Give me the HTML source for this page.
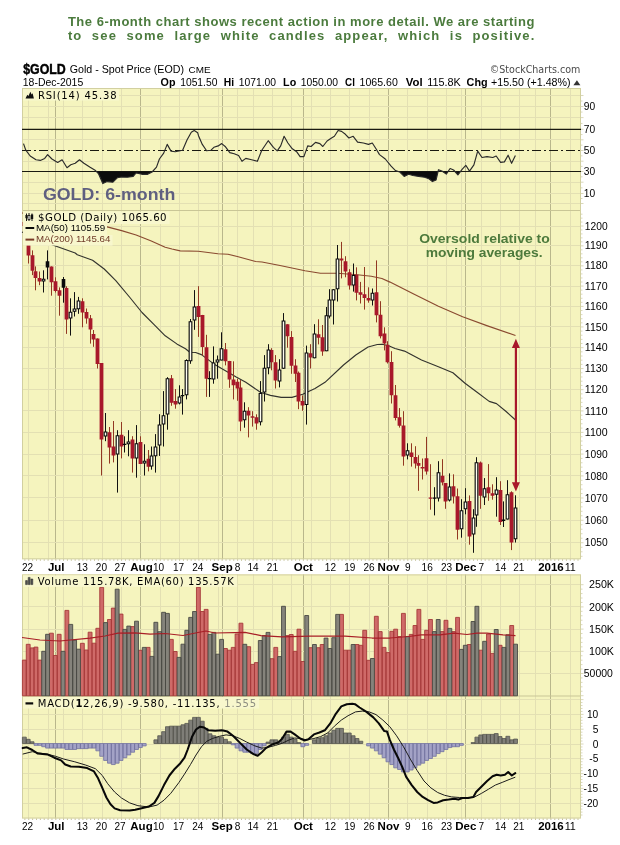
<!DOCTYPE html>
<html lang="en"><head><meta charset="utf-8"><title>GOLD 6-month chart</title>
<style>
html,body{margin:0;padding:0;background:#fff}
body{width:620px;height:845px;position:relative;overflow:hidden;font-family:"Liberation Sans",Arial,sans-serif}
.cap{position:absolute;left:67.9px;width:480px;color:#4b7b3d;font-weight:bold;font-size:13px;line-height:13.6px;white-space:nowrap;z-index:2}
#c1{top:15.2px;letter-spacing:0.522px}
#c2{top:29.4px;letter-spacing:1.15px;word-spacing:4.65px}
</style></head><body>
<svg width="620" height="845" viewBox="0 0 620 845" style="display:block;will-change:transform">
<rect width="620" height="845" fill="#fff"/>
<rect x="22" y="88" width="559" height="471.3" fill="#f5f4be"/>
<rect x="22" y="574.4" width="559" height="244.1" fill="#f5f4be"/>
<path d="M28.5 88V559.3M48.5 88V559.3M63.5 88V559.3M82.5 88V559.3M102.5 88V559.3M121.5 88V559.3M160.5 88V559.3M179.5 88V559.3M198.5 88V559.3M218.5 88V559.3M237.5 88V559.3M253.5 88V559.3M272.5 88V559.3M291.5 88V559.3M311.5 88V559.3M330.5 88V559.3M349.5 88V559.3M369.5 88V559.3M407.5 88V559.3M427.5 88V559.3M446.5 88V559.3M461.5 88V559.3M481.5 88V559.3M500.5 88V559.3M519.5 88V559.3M535.5 88V559.3M570.5 88V559.3M28.5 574.4V818.5M48.5 574.4V818.5M63.5 574.4V818.5M82.5 574.4V818.5M102.5 574.4V818.5M121.5 574.4V818.5M160.5 574.4V818.5M179.5 574.4V818.5M198.5 574.4V818.5M218.5 574.4V818.5M237.5 574.4V818.5M253.5 574.4V818.5M272.5 574.4V818.5M291.5 574.4V818.5M311.5 574.4V818.5M330.5 574.4V818.5M349.5 574.4V818.5M369.5 574.4V818.5M407.5 574.4V818.5M427.5 574.4V818.5M446.5 574.4V818.5M461.5 574.4V818.5M481.5 574.4V818.5M500.5 574.4V818.5M519.5 574.4V818.5M535.5 574.4V818.5M570.5 574.4V818.5" stroke="#e3e0b3" stroke-width="1" fill="none"/>
<path d="M55.5 88V559.3M140.5 88V559.3M222.5 88V559.3M303.5 88V559.3M388.5 88V559.3M465.5 88V559.3M550.5 88V559.3M55.5 574.4V818.5M140.5 574.4V818.5M222.5 574.4V818.5M303.5 574.4V818.5M388.5 574.4V818.5M465.5 574.4V818.5M550.5 574.4V818.5" stroke="#b9b78c" stroke-width="1" fill="none"/>
<path d="M22 95.5H581M22 106.5H581M22 117.5H581M22 139.5H581M22 161.5H581M22 182.5H581M22 193.5H581M22 203.5H581M22 542.5H581M22 520.5H581M22 497.5H581M22 475.5H581M22 454.5H581M22 432.5H581M22 410.5H581M22 389.5H581M22 368.5H581M22 347.5H581M22 326.5H581M22 306.5H581M22 286.5H581M22 265.5H581M22 245.5H581M22 226.5H581M22 673.5H581M22 651.5H581M22 629.5H581M22 606.5H581M22 584.5H581M22 699.5H581M22 714.5H581M22 729.5H581M22 744.5H581M22 758.5H581M22 773.5H581M22 788.5H581M22 803.5H581" stroke="#e3e0b3" stroke-width="1" fill="none"/>
<path d="M22 210.5H581 M22 696H581" stroke="#c9c696" stroke-width="1" fill="none"/>
<rect x="22.5" y="88.5" width="558" height="470.3" fill="none" stroke="#d2d0a0" stroke-width="1"/>
<rect x="22.5" y="574.9" width="558" height="243.1" fill="none" stroke="#d2d0a0" stroke-width="1"/>
<path d="M581 556.33h1.5M581 551.79h1.5M581 547.26h1.5M581 542.74h2.5M581 538.22h1.5M581 533.72h1.5M581 529.22h1.5M581 524.73h1.5M581 520.25h2.5M581 515.78h1.5M581 511.32h1.5M581 506.86h1.5M581 502.42h1.5M581 497.98h2.5M581 493.55h1.5M581 489.13h1.5M581 484.72h1.5M581 480.31h1.5M581 475.92h2.5M581 471.53h1.5M581 467.15h1.5M581 462.77h1.5M581 458.41h1.5M581 454.05h2.5M581 449.7h1.5M581 445.36h1.5M581 441.03h1.5M581 436.71h1.5M581 432.39h2.5M581 428.08h1.5M581 423.78h1.5M581 419.49h1.5M581 415.2h1.5M581 410.92h2.5M581 406.65h1.5M581 402.39h1.5M581 398.14h1.5M581 393.89h1.5M581 389.65h2.5M581 385.42h1.5M581 381.19h1.5M581 376.98h1.5M581 372.77h1.5M581 368.57h2.5M581 364.37h1.5M581 360.18h1.5M581 356.01h1.5M581 351.83h1.5M581 347.67h2.5M581 343.51h1.5M581 339.36h1.5M581 335.22h1.5M581 331.08h1.5M581 326.95h2.5M581 322.83h1.5M581 318.72h1.5M581 314.61h1.5M581 310.51h1.5M581 306.41h2.5M581 302.33h1.5M581 298.25h1.5M581 294.18h1.5M581 290.11h1.5M581 286.05h2.5M581 282h1.5M581 277.96h1.5M581 273.92h1.5M581 269.89h1.5M581 265.87h2.5M581 261.85h1.5M581 257.84h1.5M581 253.84h1.5M581 249.84h1.5M581 245.85h2.5M581 241.87h1.5M581 237.89h1.5M581 233.92h1.5M581 229.96h1.5M581 226h2.5M581 222.05h1.5M581 218.11h1.5M581 214.17h1.5M581 203.5h2.5M581 198.5h1.5M581 193.5h2.5M581 187.85h1.5M581 182.2h2.5M581 176.85h1.5M581 171.5h2.5M581 166.35h1.5M581 161.2h2.5M581 155.85h1.5M581 150.5h2.5M581 145.15h1.5M581 139.8h2.5M581 134.55h1.5M581 129.3h2.5M581 123.45h1.5M581 117.6h2.5M581 112.05h1.5M581 106.5h2.5M581 101h1.5M581 95.5h2.5M581 695.7h2.5M581 691.26h1.5M581 686.82h1.5M581 682.38h1.5M581 677.94h1.5M581 673.5h2.5M581 669.06h1.5M581 664.62h1.5M581 660.18h1.5M581 655.74h1.5M581 651.3h2.5M581 646.86h1.5M581 642.42h1.5M581 637.98h1.5M581 633.54h1.5M581 629.1h2.5M581 624.66h1.5M581 620.22h1.5M581 615.78h1.5M581 611.34h1.5M581 606.9h2.5M581 602.46h1.5M581 598.02h1.5M581 593.58h1.5M581 589.14h1.5M581 584.7h2.5M581 815.04h1.5M581 812.08h1.5M581 809.12h1.5M581 806.16h1.5M581 803.2h2.5M581 800.24h1.5M581 797.28h1.5M581 794.32h1.5M581 791.36h1.5M581 788.4h2.5M581 785.44h1.5M581 782.48h1.5M581 779.52h1.5M581 776.56h1.5M581 773.6h2.5M581 770.64h1.5M581 767.68h1.5M581 764.72h1.5M581 761.76h1.5M581 758.8h2.5M581 755.84h1.5M581 752.88h1.5M581 749.92h1.5M581 746.96h1.5M581 744h2.5M581 741.04h1.5M581 738.08h1.5M581 735.12h1.5M581 732.16h1.5M581 729.2h2.5M581 726.24h1.5M581 723.28h1.5M581 720.32h1.5M581 717.36h1.5M581 714.4h2.5M581 711.44h1.5M581 708.48h1.5M581 705.52h1.5M581 702.56h1.5M581 699.6h2.5" stroke="#d0ceaa" stroke-width="0.8" fill="none"/>
<path d="M24.88 559.3v1.5M28.75 559.3v1.5M32.62 559.3v1.5M36.49 559.3v1.5M40.35 559.3v1.5M44.22 559.3v1.5M48.09 559.3v1.5M51.96 559.3v1.5M55.83 559.3v1.5M59.69 559.3v1.5M63.56 559.3v1.5M67.43 559.3v1.5M71.3 559.3v1.5M75.17 559.3v1.5M79.03 559.3v1.5M82.9 559.3v1.5M86.77 559.3v1.5M90.64 559.3v1.5M94.51 559.3v1.5M98.37 559.3v1.5M102.24 559.3v1.5M106.11 559.3v1.5M109.98 559.3v1.5M113.85 559.3v1.5M117.71 559.3v1.5M121.58 559.3v1.5M125.45 559.3v1.5M129.32 559.3v1.5M133.19 559.3v1.5M137.05 559.3v1.5M140.92 559.3v1.5M144.79 559.3v1.5M148.66 559.3v1.5M152.53 559.3v1.5M156.39 559.3v1.5M160.26 559.3v1.5M164.13 559.3v1.5M168 559.3v1.5M171.87 559.3v1.5M175.73 559.3v1.5M179.6 559.3v1.5M183.47 559.3v1.5M187.34 559.3v1.5M191.21 559.3v1.5M195.07 559.3v1.5M198.94 559.3v1.5M202.81 559.3v1.5M206.68 559.3v1.5M210.55 559.3v1.5M214.41 559.3v1.5M218.28 559.3v1.5M222.15 559.3v1.5M226.02 559.3v1.5M229.89 559.3v1.5M233.75 559.3v1.5M237.62 559.3v1.5M241.49 559.3v1.5M245.36 559.3v1.5M249.23 559.3v1.5M253.09 559.3v1.5M256.96 559.3v1.5M260.83 559.3v1.5M264.7 559.3v1.5M268.57 559.3v1.5M272.43 559.3v1.5M276.3 559.3v1.5M280.17 559.3v1.5M284.04 559.3v1.5M287.91 559.3v1.5M291.77 559.3v1.5M295.64 559.3v1.5M299.51 559.3v1.5M303.38 559.3v1.5M307.25 559.3v1.5M311.11 559.3v1.5M314.98 559.3v1.5M318.85 559.3v1.5M322.72 559.3v1.5M326.59 559.3v1.5M330.45 559.3v1.5M334.32 559.3v1.5M338.19 559.3v1.5M342.06 559.3v1.5M345.93 559.3v1.5M349.79 559.3v1.5M353.66 559.3v1.5M357.53 559.3v1.5M361.4 559.3v1.5M365.27 559.3v1.5M369.13 559.3v1.5M373 559.3v1.5M376.87 559.3v1.5M380.74 559.3v1.5M384.61 559.3v1.5M388.47 559.3v1.5M392.34 559.3v1.5M396.21 559.3v1.5M400.08 559.3v1.5M403.95 559.3v1.5M407.81 559.3v1.5M411.68 559.3v1.5M415.55 559.3v1.5M419.42 559.3v1.5M423.29 559.3v1.5M427.15 559.3v1.5M431.02 559.3v1.5M434.89 559.3v1.5M438.76 559.3v1.5M442.63 559.3v1.5M446.49 559.3v1.5M450.36 559.3v1.5M454.23 559.3v1.5M458.1 559.3v1.5M461.97 559.3v1.5M465.83 559.3v1.5M469.7 559.3v1.5M473.57 559.3v1.5M477.44 559.3v1.5M481.31 559.3v1.5M485.17 559.3v1.5M489.04 559.3v1.5M492.91 559.3v1.5M496.78 559.3v1.5M500.65 559.3v1.5M504.51 559.3v1.5M508.38 559.3v1.5M512.25 559.3v1.5M516.12 559.3v1.5M519.99 559.3v1.5M523.85 559.3v1.5M527.72 559.3v1.5M531.59 559.3v1.5M535.46 559.3v1.5M539.33 559.3v1.5M543.19 559.3v1.5M547.06 559.3v1.5M550.93 559.3v1.5M554.8 559.3v1.5M558.67 559.3v1.5M562.53 559.3v1.5M566.4 559.3v1.5M570.27 559.3v1.5M574.14 559.3v1.5M578.01 559.3v1.5M24.88 818.5v1.5M28.75 818.5v1.5M32.62 818.5v1.5M36.49 818.5v1.5M40.35 818.5v1.5M44.22 818.5v1.5M48.09 818.5v1.5M51.96 818.5v1.5M55.83 818.5v1.5M59.69 818.5v1.5M63.56 818.5v1.5M67.43 818.5v1.5M71.3 818.5v1.5M75.17 818.5v1.5M79.03 818.5v1.5M82.9 818.5v1.5M86.77 818.5v1.5M90.64 818.5v1.5M94.51 818.5v1.5M98.37 818.5v1.5M102.24 818.5v1.5M106.11 818.5v1.5M109.98 818.5v1.5M113.85 818.5v1.5M117.71 818.5v1.5M121.58 818.5v1.5M125.45 818.5v1.5M129.32 818.5v1.5M133.19 818.5v1.5M137.05 818.5v1.5M140.92 818.5v1.5M144.79 818.5v1.5M148.66 818.5v1.5M152.53 818.5v1.5M156.39 818.5v1.5M160.26 818.5v1.5M164.13 818.5v1.5M168 818.5v1.5M171.87 818.5v1.5M175.73 818.5v1.5M179.6 818.5v1.5M183.47 818.5v1.5M187.34 818.5v1.5M191.21 818.5v1.5M195.07 818.5v1.5M198.94 818.5v1.5M202.81 818.5v1.5M206.68 818.5v1.5M210.55 818.5v1.5M214.41 818.5v1.5M218.28 818.5v1.5M222.15 818.5v1.5M226.02 818.5v1.5M229.89 818.5v1.5M233.75 818.5v1.5M237.62 818.5v1.5M241.49 818.5v1.5M245.36 818.5v1.5M249.23 818.5v1.5M253.09 818.5v1.5M256.96 818.5v1.5M260.83 818.5v1.5M264.7 818.5v1.5M268.57 818.5v1.5M272.43 818.5v1.5M276.3 818.5v1.5M280.17 818.5v1.5M284.04 818.5v1.5M287.91 818.5v1.5M291.77 818.5v1.5M295.64 818.5v1.5M299.51 818.5v1.5M303.38 818.5v1.5M307.25 818.5v1.5M311.11 818.5v1.5M314.98 818.5v1.5M318.85 818.5v1.5M322.72 818.5v1.5M326.59 818.5v1.5M330.45 818.5v1.5M334.32 818.5v1.5M338.19 818.5v1.5M342.06 818.5v1.5M345.93 818.5v1.5M349.79 818.5v1.5M353.66 818.5v1.5M357.53 818.5v1.5M361.4 818.5v1.5M365.27 818.5v1.5M369.13 818.5v1.5M373 818.5v1.5M376.87 818.5v1.5M380.74 818.5v1.5M384.61 818.5v1.5M388.47 818.5v1.5M392.34 818.5v1.5M396.21 818.5v1.5M400.08 818.5v1.5M403.95 818.5v1.5M407.81 818.5v1.5M411.68 818.5v1.5M415.55 818.5v1.5M419.42 818.5v1.5M423.29 818.5v1.5M427.15 818.5v1.5M431.02 818.5v1.5M434.89 818.5v1.5M438.76 818.5v1.5M442.63 818.5v1.5M446.49 818.5v1.5M450.36 818.5v1.5M454.23 818.5v1.5M458.1 818.5v1.5M461.97 818.5v1.5M465.83 818.5v1.5M469.7 818.5v1.5M473.57 818.5v1.5M477.44 818.5v1.5M481.31 818.5v1.5M485.17 818.5v1.5M489.04 818.5v1.5M492.91 818.5v1.5M496.78 818.5v1.5M500.65 818.5v1.5M504.51 818.5v1.5M508.38 818.5v1.5M512.25 818.5v1.5M516.12 818.5v1.5M519.99 818.5v1.5M523.85 818.5v1.5M527.72 818.5v1.5M531.59 818.5v1.5M535.46 818.5v1.5M539.33 818.5v1.5M543.19 818.5v1.5M547.06 818.5v1.5M550.93 818.5v1.5M554.8 818.5v1.5M558.67 818.5v1.5M562.53 818.5v1.5M566.4 818.5v1.5M570.27 818.5v1.5M574.14 818.5v1.5M578.01 818.5v1.5" stroke="#c4c29a" stroke-width="1" fill="none"/>
<path d="M22 129.3H581M22 171.5H581" stroke="#1a1a10" stroke-width="1.2" fill="none"/>
<path d="M22 150.5H581" stroke="#1a1a10" stroke-width="1.2" stroke-dasharray="9 3 2 3" fill="none"/>
<polygon points="96.4,171.5 98.4,173.5 102.8,183.6 107.1,181.6 112.9,182.2 117.3,177.8 121.6,177 127.4,177.2 133.2,176.4 136.1,172.9 141.9,174.3 147.7,174.3 152.1,172 152.55,171.5" fill="#0c0c0c"/>
<polygon points="398.26,171.5 399.8,172 404.2,176.4 408.6,174.3 412.9,175.5 418.7,176.4 424.5,177.2 428.9,178.7 432.4,181.6 436.1,179.9 438.08,171.5" fill="#0c0c0c"/>
<polygon points="442.49,171.5 446.3,174.1 448.06,171.5" fill="#0c0c0c"/>
<polygon points="454.92,171.5 457.9,174.9 460.48,171.5" fill="#0c0c0c"/>
<polyline points="23.5,143.6 25.8,150.2 30.2,156 36,159.8 40.3,160.4 44.7,158.4 47.6,154.6 51.9,159 57.7,162.4 62.1,159.8 67,167.7 70.8,164.8 75.2,163.3 79.5,159.8 83.9,163.3 89.7,167.1 95.5,170.6 98.4,173.5 102.8,183.6 107.1,181.6 112.9,182.2 117.3,177.8 121.6,177 127.4,177.2 133.2,176.4 136.1,172.9 141.9,174.3 147.7,174.3 152.1,172 156.5,167.1 159.4,159 163.7,153.1 167.2,144.4 171,151.1 175.3,151.7 182.6,150.2 187,140.1 191.3,132.2 194.2,130.5 197.7,132.8 198.5,135.7 202.3,144.4 206.6,150.8 211,150.2 213.9,147.3 218.2,145.9 221.7,143.6 225.5,146.8 229.8,152.6 234.2,153.7 238.6,155.5 242,161.3 245.8,158.4 251.6,159.8 257.4,161.3 261.8,150.2 268.2,140.7 273.4,147.3 277.2,150.8 280.7,145.9 284.1,136.3 287.9,143 292.3,148.8 296.6,151.7 300.1,156.6 303.9,156.6 307.7,145.9 311.1,146.5 315.5,142.4 319.9,143.6 322.8,146.5 327.1,141 331.5,138 334.4,136.3 338.1,130.5 341.6,131.4 345.4,134.3 348.9,138 353.2,136.3 357.6,142.1 363.4,143 368.5,144.4 372.3,143 376,148.8 379.5,154.6 385.3,159 391.1,166.2 395.5,170.6 399.8,172 404.2,176.4 408.6,174.3 412.9,175.5 418.7,176.4 424.5,177.2 428.9,178.7 432.4,181.6 436.1,179.9 438.5,169.7 441.9,171.1 446.3,174.1 450.1,168.5 453.6,170 457.9,174.9 462.3,169.1 465.8,165.3 469.5,171.1 473.9,164.8 477.7,151.1 482,157.5 487,156.6 492.8,157.5 496.2,156 500.6,162.4 504.4,161.9 508.1,155.2 511.6,163.3 515.4,155.5" fill="none" stroke="#2a2a2a" stroke-width="1.15" stroke-linejoin="round"/>
<polyline points="22,213 60,217 107.1,226.9 121.6,230.6 136.1,235 150.7,240.8 165.2,247.2 172,249 180.2,250.9 198.3,251.3 217.9,253.8 228,254.2 238.2,256.7 255.6,261.5 262,262 280,265.5 305,270.7 320.4,273.2 337.3,273.2 357.3,274.7 371.2,276.2 381.9,278.5 390,282.1 414.2,294.2 438.4,306.3 462.6,316.7 486.8,325.6 515.5,335.5" fill="none" stroke="#8a4a30" stroke-width="1.15" stroke-linejoin="round"/>
<polyline points="22,232 40,240 53.4,245.2 75.2,253 77.3,254.8 92.6,260.3 104.2,269 115.8,280.6 130.3,298 142,312.5 153.6,324.1 165.2,335.8 176.8,343.9 185.5,348.8 189.8,352.2 195.6,352.5 201.4,354.6 208.1,359.6 214.7,364.6 226.3,371.2 236.2,377 245.8,382.3 260.4,392.3 270.4,395.4 281.2,397.4 291.9,397.4 302.7,394.3 315,388.5 325,382.3 343.5,365 355.8,355 368.1,347 377.3,344.5 381.9,344.2 388.1,345.5 395,348.5 404.5,351.1 421.5,360 438.4,366.8 452.9,372.8 465,383.2 477.1,392.2 489.2,401.4 496.5,403.6 506.1,411.5 515.5,420" fill="none" stroke="#33332e" stroke-width="1.15" stroke-linejoin="round"/>
<path d="M24.5 220V230M28.5 224V263.5M32.5 250.4V275.1M35.5 266.4V290.3M39.5 271.5V285.2M51.5 266.4V295.7M55.5 277.3V292.5M59.5 287.4V315.7M66.5 286.3V333.9M82.5 298.3V327.3M86.5 308.5V323.7M90.5 315V343.6M93.5 330V346.8M97.5 338.4V368.5M101.5 363V475.5M109.5 427V463.6M113.5 421V462.4M121.5 422V458.4M132.5 436.2V472.6M140.5 436.3V463.9M148.5 450V471.4M171.5 375V405.8M175.5 389.1V408.7M198.5 286.2V336.9M202.5 314.9V355.5M206.5 334.8V396.9M225.5 343V365.4M229.5 360.9V387.8M233.5 361.3V399.4M237.5 378.7V400.8M240.5 380.1V431.2M248.5 407.2V437.4M252.5 411.2V426.6M256.5 414.3V429.7M271.5 348.2V370.3M275.5 355.1V388.5M287.5 324.2V347.7M291.5 331.1V373.8M295.5 359.2V382M298.5 371.5V409.2M302.5 395.4V410.8M310.5 344.2V368.5M318.5 319.3V344.4M322.5 325V355.8M341.5 241.9V278.4M345.5 256.2V277.3M349.5 269.2V289.6M356.5 267.3V300.4M360.5 281.9V303.5M364.5 267V309.6M368.5 287.3V302.7M376.5 260.4V322.4M380.5 301.2V338.4M384.5 327.3V350.4M387.5 341.2V363.5M391.5 351.2V403.5M395.5 385V420.4M399.5 408.1V427.6M403.5 411.2V465.7M411.5 443.3V466.6M415.5 446.2V468.5M418.5 455.2V490.8M422.5 458.5V479.5M426.5 436.9V474.6M430.5 464.2V509.7M442.5 459.2V485.4M445.5 483.1V508.8M453.5 474.3V503.5M457.5 488.5V539.5M469.5 495.4V544.7M480.5 461.5V508.8M488.5 464.1V500.8M492.5 484.3V499.7M500.5 481.2V525M511.5 491.3V550.1" stroke="#923822" stroke-width="1" fill="none"/>
<path d="M43.5 270.3V292.5M47.5 250.4V279.4M63.5 277V302.7M70.5 298.3V335.6M74.5 292.1V316.5M78.5 296.9V313.8M105.5 413V441.2M117.5 430.2V492.6M124.5 436.3V452.5M128.5 430.2V456.3M136.5 425.1V477.7M144.5 444.3V475.5M151.5 446.5V469.7M155.5 434.1V472.6M159.5 414.2V455.9M163.5 391.1V446.5M167.5 377.2V429.7M179.5 385.3V404.4M182.5 389.1V414.6M186.5 359.3V399.4M190.5 319V363.8M194.5 290.1V329.8M209.5 371.2V396.9M213.5 346.4V383.7M217.5 355.5V378.7M221.5 332.3V360.4M244.5 402.3V427.7M260.5 381.1V425.4M264.5 355.1V401.5M268.5 344.2V374.3M279.5 359.2V387.4M283.5 313.1V368.8M306.5 345.6V424.6M314.5 324.2V358.3M326.5 307V351.2M329.5 289.2V318.4M333.5 289.3V324.5M337.5 245V301.5M353.5 263.5V291.6M372.5 288.5V305.5M407.5 443.3V459.4M434.5 487.2V515.4M438.5 461.2V501.5M449.5 473.4V501.5M461.5 499.2V537.7M465.5 488.2V514.3M473.5 509.2V552.8M476.5 457.2V526.8M484.5 478.1V505M496.5 477.2V516.7M503.5 501.4V527M507.5 480.2V519.5M515.5 495.3V542.5" stroke="#111" stroke-width="1" fill="none"/>
<path d="M22.6 222h3.8v4h-3.8zM26.6 226h3.8v29.5h-3.8zM30.6 255.2h3.8v15.5h-3.8zM33.6 271.2h3.8v6.8h-3.8zM37.6 278h3.8v3.6h-3.8zM49.6 266.4h3.8v15.9h-3.8zM53.6 281.3h3.8v9.7h-3.8zM57.6 290.3h3.8v5.5h-3.8zM64.6 288.1h3.8v31.5h-3.8zM80.6 301.2h3.8v11.3h-3.8zM84.6 312.1h3.8v6.5h-3.8zM88.6 318.2h3.8v11.3h-3.8zM91.6 334h3.8v5.5h-3.8zM95.6 338.4h3.8v25.5h-3.8zM99.6 363h3.8v76.5h-3.8zM107.6 432.2h3.8v15.4h-3.8zM111.6 446.5h3.8v9h-3.8zM119.6 434.8h3.8v11.7h-3.8zM130.6 439.4h3.8v19.1h-3.8zM138.6 442.1h3.8v21.8h-3.8zM146.6 458.8h3.8v8h-3.8zM169.6 378.2h3.8v24.6h-3.8zM173.6 401h3.8v3.4h-3.8zM196.6 306h3.8v11.1h-3.8zM200.6 314.9h3.8v32h-3.8zM204.6 347.2h3.8v31.5h-3.8zM223.6 349.2h3.8v12.1h-3.8zM227.6 360.9h3.8v18.6h-3.8zM231.6 379.5h3.8v5.8h-3.8zM235.6 381.7h3.8v6.7h-3.8zM238.6 387.4h3.8v34.2h-3.8zM246.6 410.8h3.8v4.6h-3.8zM250.6 416.2h3.8v1.5h-3.8zM254.6 417.2h3.8v6.3h-3.8zM269.6 350h3.8v12.3h-3.8zM273.6 362.3h3.8v18.2h-3.8zM285.6 324.2h3.8v12h-3.8zM289.6 336.9h3.8v28.8h-3.8zM293.6 365.4h3.8v8.4h-3.8zM296.6 372.8h3.8v28.7h-3.8zM300.6 401.1h3.8v4.3h-3.8zM308.6 353.3h3.8v4.2h-3.8zM316.6 334.2h3.8v3.6h-3.8zM320.6 337.3h3.8v14.2h-3.8zM339.6 258.4h3.8v2h-3.8zM343.6 261.2h3.8v10.4h-3.8zM347.6 272.2h3.8v13.3h-3.8zM354.6 274.7h3.8v18h-3.8zM358.6 292.2h3.8v2.5h-3.8zM362.6 294.2h3.8v3.9h-3.8zM366.6 298.1h3.8v2.3h-3.8zM374.6 292.2h3.8v23.1h-3.8zM378.6 314.7h3.8v21.5h-3.8zM382.6 333.5h3.8v10h-3.8zM385.6 344.7h3.8v17.5h-3.8zM389.6 361.9h3.8v33.4h-3.8zM393.6 395.3h3.8v22.8h-3.8zM397.6 417.3h3.8v8.5h-3.8zM401.6 425.5h3.8v31h-3.8zM409.6 452.5h3.8v4.5h-3.8zM413.6 457h3.8v6.5h-3.8zM416.6 463.1h3.8v2.6h-3.8zM420.6 466.9h3.8v1.6h-3.8zM424.6 458.2h3.8v13.3h-3.8zM428.7 497.6h3.6v1.2h-3.6zM440.6 475.8h3.8v6.8h-3.8zM443.6 483.1h3.8v18.4h-3.8zM451.6 486.2h3.8v10.3h-3.8zM455.6 496.2h3.8v33.5h-3.8zM467.6 501.1h3.8v35.4h-3.8zM478.6 462.6h3.8v33.2h-3.8zM486.6 487.3h3.8v6h-3.8zM490.6 493.3h3.8v2.4h-3.8zM498.6 490h3.8v32h-3.8zM509.6 492.3h3.8v50.3h-3.8z" fill="#a8182a"/>
<path d="M41.6 278.7h3.8v2.9h-3.8zM45.7 261.3h3.6v6.2h-3.6zM61.7 279h3.6v8.7h-3.6zM68.6 311.7h3.8v6.9h-3.8zM72.6 308.5h3.8v3.2h-3.8zM76.6 300.5h3.8v8.7h-3.8zM103.6 431.5h3.8v4.9h-3.8zM115.6 435.3h3.8v19.1h-3.8zM122.7 443.7h3.6v1.2h-3.6zM126.6 441.5h3.8v2.7h-3.8zM134.6 443.3h3.8v15.2h-3.8zM142.6 460.7h3.8v2.7h-3.8zM149.6 455.5h3.8v11h-3.8zM153.6 446.5h3.8v9.8h-3.8zM157.6 424.6h3.8v20.8h-3.8zM161.6 415.3h3.8v9.2h-3.8zM165.6 378.3h3.8v36.2h-3.8zM177.6 396.6h3.8v6.9h-3.8zM180.7 395h3.6v1.2h-3.6zM184.6 360.1h3.8v35.2h-3.8zM188.6 321.2h3.8v40.1h-3.8zM192.6 306.5h3.8v14h-3.8zM207.7 378.1h3.6v1.2h-3.6zM211.6 362.6h3.8v16.9h-3.8zM215.6 359.6h3.8v3h-3.8zM219.6 348.3h3.8v12.1h-3.8zM242.6 410.8h3.8v9.4h-3.8zM258.6 393.1h3.8v29.2h-3.8zM262.6 367.7h3.8v24.9h-3.8zM266.6 349.5h3.8v18.7h-3.8zM277.6 369.5h3.8v12h-3.8zM281.6 320.5h3.8v48.3h-3.8zM304.6 352.5h3.8v52.6h-3.8zM312.6 333.5h3.8v24.8h-3.8zM324.6 315.3h3.8v35.9h-3.8zM327.6 299.6h3.8v16.9h-3.8zM331.6 289.3h3.8v11.1h-3.8zM335.6 258.4h3.8v30.8h-3.8zM351.6 275h3.8v10.5h-3.8zM370.6 292.7h3.8v7.7h-3.8zM405.6 450.3h3.8v5.2h-3.8zM432.7 497.6h3.6v1.2h-3.6zM436.6 472.3h3.8v26.2h-3.8zM447.6 486.6h3.8v13.9h-3.8zM459.6 510.3h3.8v18.9h-3.8zM463.6 501.5h3.8v7.7h-3.8zM471.6 517.5h3.8v16.9h-3.8zM474.6 462.2h3.8v53.3h-3.8zM482.6 488.3h3.8v9.2h-3.8zM494.6 489.4h3.8v5.3h-3.8zM501.7 519.5h3.6v1.5h-3.6zM505.6 494.3h3.8v25.2h-3.8zM513.6 507.5h3.8v31.7h-3.8z" fill="#0a0a0a"/>
<path d="M42.75 279.7h1.5v0.9h-1.5zM69.75 312.7h1.5v4.9h-1.5zM73.75 309.5h1.5v1.2h-1.5zM77.75 301.5h1.5v6.7h-1.5zM104.75 432.5h1.5v2.9h-1.5zM116.75 436.3h1.5v17.1h-1.5zM127.75 442.5h1.5v0.7h-1.5zM135.75 444.3h1.5v13.2h-1.5zM143.75 461.7h1.5v0.7h-1.5zM150.75 456.5h1.5v9h-1.5zM154.75 447.5h1.5v7.8h-1.5zM158.75 425.6h1.5v18.8h-1.5zM162.75 416.3h1.5v7.2h-1.5zM166.75 379.3h1.5v34.2h-1.5zM178.75 397.6h1.5v4.9h-1.5zM185.75 361.1h1.5v33.2h-1.5zM189.75 322.2h1.5v38.1h-1.5zM193.75 307.5h1.5v12h-1.5zM212.75 363.6h1.5v14.9h-1.5zM216.75 360.6h1.5v1h-1.5zM220.75 349.3h1.5v10.1h-1.5zM243.75 411.8h1.5v7.4h-1.5zM259.75 394.1h1.5v27.2h-1.5zM263.75 368.7h1.5v22.9h-1.5zM267.75 350.5h1.5v16.7h-1.5zM278.75 370.5h1.5v10h-1.5zM282.75 321.5h1.5v46.3h-1.5zM305.75 353.5h1.5v50.6h-1.5zM313.75 334.5h1.5v22.8h-1.5zM325.75 316.3h1.5v33.9h-1.5zM328.75 300.6h1.5v14.9h-1.5zM332.75 290.3h1.5v9.1h-1.5zM336.75 259.4h1.5v28.8h-1.5zM352.75 276h1.5v8.5h-1.5zM371.75 293.7h1.5v5.7h-1.5zM406.75 451.3h1.5v3.2h-1.5zM437.75 473.3h1.5v24.2h-1.5zM448.75 487.6h1.5v11.9h-1.5zM460.75 511.3h1.5v16.9h-1.5zM464.75 502.5h1.5v5.7h-1.5zM472.75 518.5h1.5v14.9h-1.5zM475.75 463.2h1.5v51.3h-1.5zM483.75 489.3h1.5v7.2h-1.5zM495.75 490.4h1.5v3.3h-1.5zM506.75 495.3h1.5v23.2h-1.5zM514.75 508.5h1.5v29.7h-1.5z" fill="#fffef2"/>
<path d="M515.9 346V484" stroke="#a8182a" stroke-width="2.2" fill="none"/>
<path d="M515.9 338.8L519.9 348H511.9z M515.9 491.6L519.9 482.2H511.9z" fill="#a8182a"/>
<path d="M22.4 695.8V660.1H26.27V695.8zM26.27 695.8V644.3H30.13V695.8zM30.13 695.8V647.9H34V695.8zM34 695.8V647.1H37.87V695.8zM37.87 695.8V660.1H41.74V695.8zM49.47 695.8V633.2H53.34V695.8zM53.34 695.8V655.5H57.21V695.8zM57.21 695.8V634.3H61.08V695.8zM64.95 695.8V610.4H68.81V695.8zM80.42 695.8V643.3H84.29V695.8zM84.29 695.8V650H88.15V695.8zM88.15 695.8V632.2H92.02V695.8zM92.02 695.8V643.2H95.89V695.8zM95.89 695.8V628.3H99.76V695.8zM99.76 695.8V587.4H103.63V695.8zM107.49 695.8V619.5H111.36V695.8zM111.36 695.8V608.1H115.23V695.8zM119.1 695.8V614.1H122.97V695.8zM130.7 695.8V626.6H134.57V695.8zM138.44 695.8V650.3H142.31V695.8zM146.17 695.8V647.4H150.04V695.8zM169.38 695.8V639.4H173.25V695.8zM173.25 695.8V651.5H177.12V695.8zM196.46 695.8V587.3H200.33V695.8zM200.33 695.8V611.5H204.19V695.8zM204.19 695.8V609.4H208.06V695.8zM223.53 695.8V648.5H227.4V695.8zM227.4 695.8V650.2H231.27V695.8zM231.27 695.8V647.4H235.14V695.8zM235.14 695.8V634H239.01V695.8zM239.01 695.8V623.2H242.87V695.8zM246.74 695.8V646.7H250.61V695.8zM250.61 695.8V664.4H254.48V695.8zM254.48 695.8V662.6H258.35V695.8zM269.95 695.8V658.7H273.82V695.8zM273.82 695.8V647.4H277.69V695.8zM285.42 695.8V635.6H289.29V695.8zM289.29 695.8V634.5H293.16V695.8zM293.16 695.8V651.3H297.03V695.8zM297.03 695.8V629.2H300.89V695.8zM300.89 695.8V661.5H304.76V695.8zM308.63 695.8V647.7H312.5V695.8zM316.37 695.8V647.7H320.23V695.8zM320.23 695.8V644.5H324.1V695.8zM339.57 695.8V614.4H343.44V695.8zM343.44 695.8V650.2H347.31V695.8zM347.31 695.8V650.2H351.18V695.8zM355.05 695.8V644.5H358.91V695.8zM358.91 695.8V645.3H362.78V695.8zM362.78 695.8V630.3H366.65V695.8zM366.65 695.8V660.3H370.52V695.8zM374.39 695.8V616.3H378.25V695.8zM378.25 695.8V631.6H382.12V695.8zM382.12 695.8V647.4H385.99V695.8zM385.99 695.8V652.6H389.86V695.8zM389.86 695.8V631.3H393.73V695.8zM393.73 695.8V629.2H397.59V695.8zM397.59 695.8V636.5H401.46V695.8zM401.46 695.8V613.4H405.33V695.8zM409.2 695.8V634.4H413.07V695.8zM413.07 695.8V625.5H416.93V695.8zM416.93 695.8V609.4H420.8V695.8zM420.8 695.8V639.4H424.67V695.8zM424.67 695.8V630.3H428.54V695.8zM428.54 695.8V619.5H432.41V695.8zM440.14 695.8V631.6H444.01V695.8zM444.01 695.8V620.3H447.88V695.8zM451.75 695.8V631.6H455.61V695.8zM455.61 695.8V617.4H459.48V695.8zM467.22 695.8V644.5H471.09V695.8zM478.82 695.8V650.2H482.69V695.8zM486.56 695.8V634H490.43V695.8zM490.43 695.8V653.4H494.29V695.8zM498.16 695.8V645.3H502.03V695.8zM509.77 695.8V625.5H513.63V695.8z" fill="#cf6a68" stroke="#a63a3a" stroke-width="0.9" stroke-linejoin="miter"/>
<path d="M41.74 695.8V651.3H45.61V695.8zM45.61 695.8V634.3H49.47V695.8zM61.08 695.8V651.3H64.95V695.8zM68.81 695.8V624.4H72.68V695.8zM72.68 695.8V640.1H76.55V695.8zM76.55 695.8V649.2H80.42V695.8zM103.63 695.8V622.6H107.49V695.8zM115.23 695.8V589.2H119.1V695.8zM122.97 695.8V629.4H126.83V695.8zM126.83 695.8V626.1H130.7V695.8zM134.57 695.8V621.2H138.44V695.8zM142.31 695.8V647.4H146.17V695.8zM150.04 695.8V656.4H153.91V695.8zM153.91 695.8V622.3H157.78V695.8zM157.78 695.8V631.7H161.65V695.8zM161.65 695.8V612.3H165.51V695.8zM165.51 695.8V613.4H169.38V695.8zM177.12 695.8V657.4H180.99V695.8zM180.99 695.8V644.2H184.85V695.8zM184.85 695.8V630.3H188.72V695.8zM188.72 695.8V617.4H192.59V695.8zM192.59 695.8V611.5H196.46V695.8zM208.06 695.8V634.4H211.93V695.8zM211.93 695.8V632.4H215.8V695.8zM215.8 695.8V654.2H219.67V695.8zM219.67 695.8V639.4H223.53V695.8zM242.87 695.8V644.3H246.74V695.8zM258.35 695.8V640.5H262.21V695.8zM262.21 695.8V635.6H266.08V695.8zM266.08 695.8V632.4H269.95V695.8zM277.69 695.8V656.6H281.55V695.8zM281.55 695.8V606.3H285.42V695.8zM304.76 695.8V615.5H308.63V695.8zM312.5 695.8V644.5H316.37V695.8zM324.1 695.8V638.1H327.97V695.8zM327.97 695.8V648.5H331.84V695.8zM331.84 695.8V637.7H335.71V695.8zM335.71 695.8V614.4H339.57V695.8zM351.18 695.8V644.5H355.05V695.8zM370.52 695.8V658.5H374.39V695.8zM405.33 695.8V636.5H409.2V695.8zM432.41 695.8V631.6H436.27V695.8zM436.27 695.8V619.5H440.14V695.8zM447.88 695.8V628.4H451.75V695.8zM459.48 695.8V649.4H463.35V695.8zM463.35 695.8V645.3H467.22V695.8zM471.09 695.8V621.5H474.95V695.8zM474.95 695.8V606.3H478.82V695.8zM482.69 695.8V641.3H486.56V695.8zM494.29 695.8V629.5H498.16V695.8zM502.03 695.8V647.4H505.9V695.8zM505.9 695.8V634.8H509.77V695.8zM513.63 695.8V644.2H517.5V695.8z" fill="#85837b" stroke="#4a4a44" stroke-width="0.9" stroke-linejoin="miter"/>
<polyline points="22,637.5 40,640 60,641 90,638.2 105,636 118,633.2 135,632.8 150,634.2 165,633.5 183,635.5 198,632.5 206,631 215,633 245,632.4 261,635.6 282,636.8 310,636.1 345,636.1 372,638 390,638 409,636.5 421,634.8 440,634.8 454,633.2 467,634.5 477,633.2 487,633.2 503,634.8 515.5,635.6" fill="none" stroke="#a81e26" stroke-width="1.25" stroke-linejoin="round"/>
<path d="M34 743.5V745.36H37.87V743.5zM37.87 743.5V745.36H41.74V743.5zM41.74 743.5V746.73H45.61V743.5zM45.61 743.5V748.1H49.47V743.5zM49.47 743.5V748.1H53.34V743.5zM53.34 743.5V748.1H57.21V743.5zM57.21 743.5V748.1H61.08V743.5zM61.08 743.5V748.1H64.95V743.5zM64.95 743.5V749.47H68.81V743.5zM68.81 743.5V749.47H72.68V743.5zM72.68 743.5V749.47H76.55V743.5zM76.55 743.5V748.65H80.42V743.5zM80.42 743.5V748.65H84.29V743.5zM84.29 743.5V748.65H88.15V743.5zM88.15 743.5V748.1H92.02V743.5zM92.02 743.5V748.1H95.89V743.5zM95.89 743.5V750.84H99.76V743.5zM99.76 743.5V756.32H103.63V743.5zM103.63 743.5V760.44H107.49V743.5zM107.49 743.5V763.18H111.36V743.5zM111.36 743.5V764.55H115.23V743.5zM115.23 743.5V763.18H119.1V743.5zM119.1 743.5V760.44H122.97V743.5zM122.97 743.5V757.69H126.83V743.5zM126.83 743.5V754.95H130.7V743.5zM130.7 743.5V752.21H134.57V743.5zM134.57 743.5V749.47H138.44V743.5zM138.44 743.5V747.55H142.31V743.5zM142.31 743.5V745.9H146.17V743.5zM231.27 743.5V744.81H235.14V743.5zM235.14 743.5V748.1H239.01V743.5zM239.01 743.5V750.84H242.87V743.5zM242.87 743.5V752.21H246.74V743.5zM246.74 743.5V752.21H250.61V743.5zM250.61 743.5V753.58H254.48V743.5zM254.48 743.5V753.58H258.35V743.5zM258.35 743.5V749.47H262.21V743.5zM262.21 743.5V745.9H266.08V743.5zM300.89 743.5V746.73H304.76V743.5zM304.76 743.5V745.36H308.63V743.5zM366.65 743.5V745.9H370.52V743.5zM370.52 743.5V748.1H374.39V743.5zM374.39 743.5V750.84H378.25V743.5zM378.25 743.5V754.13H382.12V743.5zM382.12 743.5V757.69H385.99V743.5zM385.99 743.5V761.81H389.86V743.5zM389.86 743.5V764.55H393.73V743.5zM393.73 743.5V767.84H397.59V743.5zM397.59 743.5V769.49H401.46V743.5zM401.46 743.5V771.95H405.33V743.5zM405.33 743.5V771.95H409.2V743.5zM409.2 743.5V770.03H413.07V743.5zM413.07 743.5V767.84H416.93V743.5zM416.93 743.5V765.1H420.8V743.5zM420.8 743.5V763.18H424.67V743.5zM424.67 743.5V760.44H428.54V743.5zM428.54 743.5V758.52H432.41V743.5zM432.41 743.5V756.32H436.27V743.5zM436.27 743.5V753.58H440.14V743.5zM440.14 743.5V751.66H444.01V743.5zM444.01 743.5V749.47H447.88V743.5zM447.88 743.5V747.55H451.75V743.5zM451.75 743.5V746.73H455.61V743.5zM455.61 743.5V746.73H459.48V743.5zM459.48 743.5V745.36H463.35V743.5z" fill="#a3a2c6" stroke="#7473a0" stroke-width="0.8"/>
<path d="M22.4 743.5V737.13H26.27V743.5zM26.27 743.5V739.32H30.13V743.5zM30.13 743.5V741.79H34V743.5zM153.91 743.5V739.87H157.78V743.5zM157.78 743.5V735.76H161.65V743.5zM161.65 743.5V731.65H165.51V743.5zM165.51 743.5V726.71H169.38V743.5zM169.38 743.5V726.16H173.25V743.5zM173.25 743.5V726.16H177.12V743.5zM177.12 743.5V726.16H180.99V743.5zM180.99 743.5V724.79H184.85V743.5zM184.85 743.5V723.42H188.72V743.5zM188.72 743.5V720.13H192.59V743.5zM192.59 743.5V717.39H196.46V743.5zM196.46 743.5V717.39H200.33V743.5zM200.33 743.5V721.23H204.19V743.5zM204.19 743.5V728.36H208.06V743.5zM208.06 743.5V733.84H211.93V743.5zM211.93 743.5V735.76H215.8V743.5zM215.8 743.5V737.13H219.67V743.5zM219.67 743.5V737.13H223.53V743.5zM223.53 743.5V739.32H227.4V743.5zM227.4 743.5V741.79H231.27V743.5zM266.08 743.5V742.07H269.95V743.5zM269.95 743.5V739.87H273.82V743.5zM273.82 743.5V739.87H277.69V743.5zM277.69 743.5V741.24H281.55V743.5zM281.55 743.5V737.13H285.42V743.5zM285.42 743.5V734.39H289.29V743.5zM289.29 743.5V737.13H293.16V743.5zM293.16 743.5V739.32H297.03V743.5zM297.03 743.5V742.61H300.89V743.5zM312.5 743.5V739.87H316.37V743.5zM316.37 743.5V738.5H320.23V743.5zM320.23 743.5V737.68H324.1V743.5zM324.1 743.5V735.76H327.97V743.5zM327.97 743.5V733.02H331.84V743.5zM331.84 743.5V730.27H335.71V743.5zM335.71 743.5V728.36H339.57V743.5zM339.57 743.5V728.36H343.44V743.5zM343.44 743.5V733.02H347.31V743.5zM347.31 743.5V733.02H351.18V743.5zM351.18 743.5V735.76H355.05V743.5zM355.05 743.5V738.5H358.91V743.5zM358.91 743.5V741.24H362.78V743.5zM471.09 743.5V742.61H474.95V743.5zM474.95 743.5V737.13H478.82V743.5zM478.82 743.5V734.94H482.69V743.5zM482.69 743.5V734.39H486.56V743.5zM486.56 743.5V734.39H490.43V743.5zM490.43 743.5V734.39H494.29V743.5zM494.29 743.5V733.57H498.16V743.5zM498.16 743.5V736.58H502.03V743.5zM502.03 743.5V738.5H505.9V743.5zM505.9 743.5V736.31H509.77V743.5zM509.77 743.5V739.87H513.63V743.5zM513.63 743.5V739.05H517.5V743.5z" fill="#7f7e78" stroke="#55554f" stroke-width="0.8"/>
<polyline points="22.7,754.1 32.3,751.7 37.8,752.8 47.4,754.1 55.6,756.3 63.9,759.1 74.8,761.8 85.8,765.1 95.4,768.7 102.3,775.5 107.7,783.7 114.6,792 121.5,798 129.7,802.9 137.9,805.7 148.9,807 157.1,805.1 164,800.2 170.8,793.3 179,782.4 184.5,774.1 190.5,764.5 196,755 201.5,746.7 206.9,741.2 212.4,738.5 219.3,736.3 226.1,734.9 233,735.8 239.8,738.5 246.7,742.1 254.9,745.9 261.8,748.1 267.3,747.5 275.5,745.4 282.3,743.2 289.2,739.9 294.7,738 300.2,738.5 307,739.9 313.9,738.5 320.7,736.6 327.6,733 334.4,726.2 341.3,720.1 348.1,715.7 355.5,711.9 362.3,711.1 369.2,711.9 376,714.6 382.9,720.1 389.8,726.7 396.6,735.8 403.5,746.7 410.3,759.1 417.2,770.6 424,781 430.9,787.9 437.7,792.5 444.6,795.3 451.5,796.9 459.7,797.5 467.9,798 474.8,796.9 481.6,793.3 488.5,789.2 495.3,785.1 502.2,782.4 509,779.6 515.3,777.2" fill="none" stroke="#1c1c1c" stroke-width="1" stroke-linejoin="round"/>
<polyline points="22.7,748.1 26.9,747.3 32.3,750 37.8,753.6 47.4,754.4 54.3,757.7 61.1,760.4 65.2,764.5 70.7,766.5 78.9,766.7 87.2,768.1 94,771.4 98.1,778.3 102.3,787.9 106.4,797.5 110.5,804.3 114.6,808.4 120.1,810.3 129.7,810.6 135.2,809.8 140.6,808.4 148.9,806.5 154.4,802.9 158.5,796.1 164,785.1 169.4,775.5 174.9,768.7 180.4,763.2 184.5,757.7 187.7,749.5 191.9,737.1 196,729.5 200.1,726.7 204.2,727.5 208.3,730.3 215.2,730.8 222,730.3 227.5,731.6 233,735.8 239.8,742.6 246.7,749.5 253.5,754.1 257.7,755.8 261.8,752.2 265.9,748.1 271.4,744.8 278.2,742.6 282.3,738.5 286.5,731.6 290.6,731.6 294.7,734.4 300.2,738.5 304.3,740.4 308.4,739.3 313.9,734.4 319.4,732.5 324.8,730.3 330.3,723.4 335.8,713.8 341.3,706.4 346.8,704.2 352.3,703.7 355,704.2 359.6,707.5 366.5,711.9 373.3,717.4 378.8,723.4 384.3,731.1 387,731.6 389.8,739.9 393.9,749.5 398,757.7 402.1,766.7 406.2,776.9 411.7,785.1 417.2,792 422.7,796.9 428.1,800.2 433.6,802.9 437.7,802.4 443.2,800.2 448.7,799.6 454.2,798.8 458.3,799.6 462.4,798 467.9,798 473.4,796.9 476.1,792 481.6,786.5 487.1,781 492.6,776.3 496.7,774.7 500.8,775.5 504.9,774.7 508.2,772 511.8,775.5 515.3,773.2" fill="none" stroke="#080808" stroke-width="2.05" stroke-linejoin="round" stroke-linecap="round"/>
<rect x="23" y="89" width="96" height="11.5" fill="#f8f7cd"/>
<rect x="23" y="211.5" width="146.5" height="12.5" fill="#f8f7cd"/>
<rect x="23" y="224" width="84" height="11" fill="#f8f7cd"/>
<rect x="23" y="235" width="89.5" height="10.6" fill="#f8f7cd"/>
<rect x="23" y="575.4" width="214" height="11.5" fill="#f8f7cd"/>
<rect x="23" y="697" width="236" height="11.5" fill="#f8f7cd"/>
<path d="M25.5 98.4L27.3 94.8 28.4 96 30.4 91.8 31.6 94.6 32.6 93.2 33.9 98.4z" fill="#111"/>
<path d="M26.5 213.5v7.5M29 213v8M32 213.5v7.5" stroke="#111" stroke-width="1" fill="none"/><rect x="25.4" y="215" width="2.2" height="3.2" fill="#111"/><rect x="28" y="215.5" width="2" height="4" fill="#fff" stroke="#111" stroke-width="0.8"/><rect x="31" y="214.5" width="2.2" height="4.5" fill="#111"/>
<path d="M25.5 228H34.2" stroke="#0a0a0a" stroke-width="2"/>
<path d="M25.5 239.6H34.2" stroke="#7a3a26" stroke-width="2"/>
<path d="M25.6 584.6v-4h1.8v4zM28.2 584.6v-7.2h1.9v7.2zM30.9 584.6v-5.6h1.9v5.6z" fill="#555" stroke="#222" stroke-width="0.5"/>
<path d="M25.5 703.4H33.2" stroke="#0a0a0a" stroke-width="2.2"/>
<text x="37.9" y="98.9" font-family="'DejaVu Sans', Verdana, sans-serif" font-size="10" fill="#000" textLength="78.6" lengthAdjust="spacing">RSI(14) 45.38</text>
<text x="38.1" y="221" font-family="'DejaVu Sans', Verdana, sans-serif" font-size="10.2" fill="#000" textLength="128.5" lengthAdjust="spacing">$GOLD (Daily) 1065.60</text>
<text x="36" y="230.9" font-family="'Liberation Sans', Arial, sans-serif" font-size="9.2" fill="#000" textLength="69.2" lengthAdjust="spacingAndGlyphs">MA(50) 1105.59</text>
<text x="36" y="242.4" font-family="'Liberation Sans', Arial, sans-serif" font-size="9.2" fill="#6f3a28" textLength="74.3" lengthAdjust="spacingAndGlyphs">MA(200) 1145.64</text>
<text x="37.8" y="584.7" font-family="'DejaVu Sans', Verdana, sans-serif" font-size="10" fill="#000" textLength="196" lengthAdjust="spacing">Volume 115.78K, EMA(60) 135.57K</text>
<text x="37.8" y="706.5" font-family="'DejaVu Sans', Verdana, sans-serif" font-size="10" textLength="218.2" lengthAdjust="spacing" fill="#000">MACD(<tspan font-weight="bold">1</tspan>2,26,9) -9.580, -11.135, <tspan fill="#8d8d80">1.555</tspan></text>
<text x="42.9" y="199.7" font-family="'Liberation Sans', Arial, sans-serif" font-size="17" font-weight="bold" fill="#5f5f80" textLength="132.4" lengthAdjust="spacingAndGlyphs">GOLD: 6-month</text>
<text x="419.2" y="243.1" font-family="'Liberation Sans', Arial, sans-serif" font-size="13.4" font-weight="bold" fill="#4d7a3c" textLength="130.6" lengthAdjust="spacingAndGlyphs">Oversold relative to</text>
<text x="425.7" y="256.9" font-family="'Liberation Sans', Arial, sans-serif" font-size="13.4" font-weight="bold" fill="#4d7a3c" textLength="116.9" lengthAdjust="spacingAndGlyphs">moving averages.</text>
<text x="583.8" y="110.1" font-family="'Liberation Sans', Arial, sans-serif" font-size="10.2" fill="#000" textLength="11.4" lengthAdjust="spacingAndGlyphs">90</text>
<text x="583.8" y="132.9" font-family="'Liberation Sans', Arial, sans-serif" font-size="10.2" fill="#000" textLength="11.4" lengthAdjust="spacingAndGlyphs">70</text>
<text x="583.8" y="154.1" font-family="'Liberation Sans', Arial, sans-serif" font-size="10.2" fill="#000" textLength="11.4" lengthAdjust="spacingAndGlyphs">50</text>
<text x="583.8" y="175.1" font-family="'Liberation Sans', Arial, sans-serif" font-size="10.2" fill="#000" textLength="11.4" lengthAdjust="spacingAndGlyphs">30</text>
<text x="583.8" y="197.1" font-family="'Liberation Sans', Arial, sans-serif" font-size="10.2" fill="#000" textLength="11.4" lengthAdjust="spacingAndGlyphs">10</text>
<text x="584.8" y="546.34" font-family="'Liberation Sans', Arial, sans-serif" font-size="10.2" fill="#000" textLength="22.8" lengthAdjust="spacingAndGlyphs">1050</text>
<text x="584.8" y="523.85" font-family="'Liberation Sans', Arial, sans-serif" font-size="10.2" fill="#000" textLength="22.8" lengthAdjust="spacingAndGlyphs">1060</text>
<text x="584.8" y="501.58" font-family="'Liberation Sans', Arial, sans-serif" font-size="10.2" fill="#000" textLength="22.8" lengthAdjust="spacingAndGlyphs">1070</text>
<text x="584.8" y="479.52" font-family="'Liberation Sans', Arial, sans-serif" font-size="10.2" fill="#000" textLength="22.8" lengthAdjust="spacingAndGlyphs">1080</text>
<text x="584.8" y="457.65" font-family="'Liberation Sans', Arial, sans-serif" font-size="10.2" fill="#000" textLength="22.8" lengthAdjust="spacingAndGlyphs">1090</text>
<text x="584.8" y="435.99" font-family="'Liberation Sans', Arial, sans-serif" font-size="10.2" fill="#000" textLength="22.8" lengthAdjust="spacingAndGlyphs">1100</text>
<text x="584.8" y="414.52" font-family="'Liberation Sans', Arial, sans-serif" font-size="10.2" fill="#000" textLength="22.8" lengthAdjust="spacingAndGlyphs">1110</text>
<text x="584.8" y="393.25" font-family="'Liberation Sans', Arial, sans-serif" font-size="10.2" fill="#000" textLength="22.8" lengthAdjust="spacingAndGlyphs">1120</text>
<text x="584.8" y="372.17" font-family="'Liberation Sans', Arial, sans-serif" font-size="10.2" fill="#000" textLength="22.8" lengthAdjust="spacingAndGlyphs">1130</text>
<text x="584.8" y="351.27" font-family="'Liberation Sans', Arial, sans-serif" font-size="10.2" fill="#000" textLength="22.8" lengthAdjust="spacingAndGlyphs">1140</text>
<text x="584.8" y="330.55" font-family="'Liberation Sans', Arial, sans-serif" font-size="10.2" fill="#000" textLength="22.8" lengthAdjust="spacingAndGlyphs">1150</text>
<text x="584.8" y="310.01" font-family="'Liberation Sans', Arial, sans-serif" font-size="10.2" fill="#000" textLength="22.8" lengthAdjust="spacingAndGlyphs">1160</text>
<text x="584.8" y="289.65" font-family="'Liberation Sans', Arial, sans-serif" font-size="10.2" fill="#000" textLength="22.8" lengthAdjust="spacingAndGlyphs">1170</text>
<text x="584.8" y="269.47" font-family="'Liberation Sans', Arial, sans-serif" font-size="10.2" fill="#000" textLength="22.8" lengthAdjust="spacingAndGlyphs">1180</text>
<text x="584.8" y="249.45" font-family="'Liberation Sans', Arial, sans-serif" font-size="10.2" fill="#000" textLength="22.8" lengthAdjust="spacingAndGlyphs">1190</text>
<text x="584.8" y="229.6" font-family="'Liberation Sans', Arial, sans-serif" font-size="10.2" fill="#000" textLength="22.8" lengthAdjust="spacingAndGlyphs">1200</text>
<text x="589" y="588.3" font-family="'Liberation Sans', Arial, sans-serif" font-size="10.2" fill="#000" textLength="25" lengthAdjust="spacingAndGlyphs">250K</text>
<text x="589" y="610.5" font-family="'Liberation Sans', Arial, sans-serif" font-size="10.2" fill="#000" textLength="25" lengthAdjust="spacingAndGlyphs">200K</text>
<text x="589" y="632.7" font-family="'Liberation Sans', Arial, sans-serif" font-size="10.2" fill="#000" textLength="25" lengthAdjust="spacingAndGlyphs">150K</text>
<text x="589" y="654.9" font-family="'Liberation Sans', Arial, sans-serif" font-size="10.2" fill="#000" textLength="25" lengthAdjust="spacingAndGlyphs">100K</text>
<text x="583.8" y="677.1" font-family="'Liberation Sans', Arial, sans-serif" font-size="10.2" fill="#000" textLength="29" lengthAdjust="spacingAndGlyphs">50000</text>
<text x="598.3" y="718" font-family="'Liberation Sans', Arial, sans-serif" font-size="10.2" fill="#000" text-anchor="end">10</text>
<text x="598.3" y="732.8" font-family="'Liberation Sans', Arial, sans-serif" font-size="10.2" fill="#000" text-anchor="end">5</text>
<text x="598.3" y="747.6" font-family="'Liberation Sans', Arial, sans-serif" font-size="10.2" fill="#000" text-anchor="end">0</text>
<text x="598.3" y="762.4" font-family="'Liberation Sans', Arial, sans-serif" font-size="10.2" fill="#000" text-anchor="end">-5</text>
<text x="598.3" y="777.2" font-family="'Liberation Sans', Arial, sans-serif" font-size="10.2" fill="#000" text-anchor="end">-10</text>
<text x="598.3" y="792" font-family="'Liberation Sans', Arial, sans-serif" font-size="10.2" fill="#000" text-anchor="end">-15</text>
<text x="598.3" y="806.8" font-family="'Liberation Sans', Arial, sans-serif" font-size="10.2" fill="#000" text-anchor="end">-20</text>
<text x="27.6" y="570.9" font-family="'Liberation Sans', Arial, sans-serif" font-size="10.3" fill="#000" textLength="11.2" lengthAdjust="spacingAndGlyphs" text-anchor="middle">22</text>
<text x="56.2" y="570.9" font-family="'Liberation Sans', Arial, sans-serif" font-size="11.5" font-weight="bold" fill="#000" text-anchor="middle">Jul</text>
<text x="82.3" y="570.9" font-family="'Liberation Sans', Arial, sans-serif" font-size="10.3" fill="#000" textLength="11.2" lengthAdjust="spacingAndGlyphs" text-anchor="middle">13</text>
<text x="101.4" y="570.9" font-family="'Liberation Sans', Arial, sans-serif" font-size="10.3" fill="#000" textLength="11.2" lengthAdjust="spacingAndGlyphs" text-anchor="middle">20</text>
<text x="120.1" y="570.9" font-family="'Liberation Sans', Arial, sans-serif" font-size="10.3" fill="#000" textLength="11.2" lengthAdjust="spacingAndGlyphs" text-anchor="middle">27</text>
<text x="141.5" y="570.9" font-family="'Liberation Sans', Arial, sans-serif" font-size="11.5" font-weight="bold" fill="#000" text-anchor="middle">Aug</text>
<text x="158.6" y="570.9" font-family="'Liberation Sans', Arial, sans-serif" font-size="10.3" fill="#000" textLength="11.2" lengthAdjust="spacingAndGlyphs" text-anchor="middle">10</text>
<text x="178.6" y="570.9" font-family="'Liberation Sans', Arial, sans-serif" font-size="10.3" fill="#000" textLength="11.2" lengthAdjust="spacingAndGlyphs" text-anchor="middle">17</text>
<text x="197.8" y="570.9" font-family="'Liberation Sans', Arial, sans-serif" font-size="10.3" fill="#000" textLength="11.2" lengthAdjust="spacingAndGlyphs" text-anchor="middle">24</text>
<text x="222.15" y="570.9" font-family="'Liberation Sans', Arial, sans-serif" font-size="11.5" font-weight="bold" fill="#000" text-anchor="middle">Sep</text>
<text x="237.62" y="570.9" font-family="'Liberation Sans', Arial, sans-serif" font-size="10.3" fill="#000" textLength="5.6" lengthAdjust="spacingAndGlyphs" text-anchor="middle">8</text>
<text x="253.09" y="570.9" font-family="'Liberation Sans', Arial, sans-serif" font-size="10.3" fill="#000" textLength="11.2" lengthAdjust="spacingAndGlyphs" text-anchor="middle">14</text>
<text x="272.43" y="570.9" font-family="'Liberation Sans', Arial, sans-serif" font-size="10.3" fill="#000" textLength="11.2" lengthAdjust="spacingAndGlyphs" text-anchor="middle">21</text>
<text x="303.38" y="570.9" font-family="'Liberation Sans', Arial, sans-serif" font-size="11.5" font-weight="bold" fill="#000" text-anchor="middle">Oct</text>
<text x="330.45" y="570.9" font-family="'Liberation Sans', Arial, sans-serif" font-size="10.3" fill="#000" textLength="11.2" lengthAdjust="spacingAndGlyphs" text-anchor="middle">12</text>
<text x="349.79" y="570.9" font-family="'Liberation Sans', Arial, sans-serif" font-size="10.3" fill="#000" textLength="11.2" lengthAdjust="spacingAndGlyphs" text-anchor="middle">19</text>
<text x="369.13" y="570.9" font-family="'Liberation Sans', Arial, sans-serif" font-size="10.3" fill="#000" textLength="11.2" lengthAdjust="spacingAndGlyphs" text-anchor="middle">26</text>
<text x="388.47" y="570.9" font-family="'Liberation Sans', Arial, sans-serif" font-size="11.5" font-weight="bold" fill="#000" text-anchor="middle">Nov</text>
<text x="407.81" y="570.9" font-family="'Liberation Sans', Arial, sans-serif" font-size="10.3" fill="#000" textLength="5.6" lengthAdjust="spacingAndGlyphs" text-anchor="middle">9</text>
<text x="427.15" y="570.9" font-family="'Liberation Sans', Arial, sans-serif" font-size="10.3" fill="#000" textLength="11.2" lengthAdjust="spacingAndGlyphs" text-anchor="middle">16</text>
<text x="446.49" y="570.9" font-family="'Liberation Sans', Arial, sans-serif" font-size="10.3" fill="#000" textLength="11.2" lengthAdjust="spacingAndGlyphs" text-anchor="middle">23</text>
<text x="465.83" y="570.9" font-family="'Liberation Sans', Arial, sans-serif" font-size="11.5" font-weight="bold" fill="#000" text-anchor="middle">Dec</text>
<text x="481.31" y="570.9" font-family="'Liberation Sans', Arial, sans-serif" font-size="10.3" fill="#000" textLength="5.6" lengthAdjust="spacingAndGlyphs" text-anchor="middle">7</text>
<text x="500.65" y="570.9" font-family="'Liberation Sans', Arial, sans-serif" font-size="10.3" fill="#000" textLength="11.2" lengthAdjust="spacingAndGlyphs" text-anchor="middle">14</text>
<text x="518.8" y="570.9" font-family="'Liberation Sans', Arial, sans-serif" font-size="10.3" fill="#000" textLength="11.2" lengthAdjust="spacingAndGlyphs" text-anchor="middle">21</text>
<text x="550.93" y="570.9" font-family="'Liberation Sans', Arial, sans-serif" font-size="11.5" font-weight="bold" fill="#000" text-anchor="middle">2016</text>
<text x="570.27" y="570.9" font-family="'Liberation Sans', Arial, sans-serif" font-size="10.3" fill="#000" textLength="11.2" lengthAdjust="spacingAndGlyphs" text-anchor="middle">11</text>
<text x="27.6" y="830.3" font-family="'Liberation Sans', Arial, sans-serif" font-size="10.3" fill="#000" textLength="11.2" lengthAdjust="spacingAndGlyphs" text-anchor="middle">22</text>
<text x="56.2" y="830.3" font-family="'Liberation Sans', Arial, sans-serif" font-size="11.5" font-weight="bold" fill="#000" text-anchor="middle">Jul</text>
<text x="82.3" y="830.3" font-family="'Liberation Sans', Arial, sans-serif" font-size="10.3" fill="#000" textLength="11.2" lengthAdjust="spacingAndGlyphs" text-anchor="middle">13</text>
<text x="101.4" y="830.3" font-family="'Liberation Sans', Arial, sans-serif" font-size="10.3" fill="#000" textLength="11.2" lengthAdjust="spacingAndGlyphs" text-anchor="middle">20</text>
<text x="120.1" y="830.3" font-family="'Liberation Sans', Arial, sans-serif" font-size="10.3" fill="#000" textLength="11.2" lengthAdjust="spacingAndGlyphs" text-anchor="middle">27</text>
<text x="141.5" y="830.3" font-family="'Liberation Sans', Arial, sans-serif" font-size="11.5" font-weight="bold" fill="#000" text-anchor="middle">Aug</text>
<text x="158.6" y="830.3" font-family="'Liberation Sans', Arial, sans-serif" font-size="10.3" fill="#000" textLength="11.2" lengthAdjust="spacingAndGlyphs" text-anchor="middle">10</text>
<text x="178.6" y="830.3" font-family="'Liberation Sans', Arial, sans-serif" font-size="10.3" fill="#000" textLength="11.2" lengthAdjust="spacingAndGlyphs" text-anchor="middle">17</text>
<text x="197.8" y="830.3" font-family="'Liberation Sans', Arial, sans-serif" font-size="10.3" fill="#000" textLength="11.2" lengthAdjust="spacingAndGlyphs" text-anchor="middle">24</text>
<text x="222.15" y="830.3" font-family="'Liberation Sans', Arial, sans-serif" font-size="11.5" font-weight="bold" fill="#000" text-anchor="middle">Sep</text>
<text x="237.62" y="830.3" font-family="'Liberation Sans', Arial, sans-serif" font-size="10.3" fill="#000" textLength="5.6" lengthAdjust="spacingAndGlyphs" text-anchor="middle">8</text>
<text x="253.09" y="830.3" font-family="'Liberation Sans', Arial, sans-serif" font-size="10.3" fill="#000" textLength="11.2" lengthAdjust="spacingAndGlyphs" text-anchor="middle">14</text>
<text x="272.43" y="830.3" font-family="'Liberation Sans', Arial, sans-serif" font-size="10.3" fill="#000" textLength="11.2" lengthAdjust="spacingAndGlyphs" text-anchor="middle">21</text>
<text x="303.38" y="830.3" font-family="'Liberation Sans', Arial, sans-serif" font-size="11.5" font-weight="bold" fill="#000" text-anchor="middle">Oct</text>
<text x="330.45" y="830.3" font-family="'Liberation Sans', Arial, sans-serif" font-size="10.3" fill="#000" textLength="11.2" lengthAdjust="spacingAndGlyphs" text-anchor="middle">12</text>
<text x="349.79" y="830.3" font-family="'Liberation Sans', Arial, sans-serif" font-size="10.3" fill="#000" textLength="11.2" lengthAdjust="spacingAndGlyphs" text-anchor="middle">19</text>
<text x="369.13" y="830.3" font-family="'Liberation Sans', Arial, sans-serif" font-size="10.3" fill="#000" textLength="11.2" lengthAdjust="spacingAndGlyphs" text-anchor="middle">26</text>
<text x="388.47" y="830.3" font-family="'Liberation Sans', Arial, sans-serif" font-size="11.5" font-weight="bold" fill="#000" text-anchor="middle">Nov</text>
<text x="407.81" y="830.3" font-family="'Liberation Sans', Arial, sans-serif" font-size="10.3" fill="#000" textLength="5.6" lengthAdjust="spacingAndGlyphs" text-anchor="middle">9</text>
<text x="427.15" y="830.3" font-family="'Liberation Sans', Arial, sans-serif" font-size="10.3" fill="#000" textLength="11.2" lengthAdjust="spacingAndGlyphs" text-anchor="middle">16</text>
<text x="446.49" y="830.3" font-family="'Liberation Sans', Arial, sans-serif" font-size="10.3" fill="#000" textLength="11.2" lengthAdjust="spacingAndGlyphs" text-anchor="middle">23</text>
<text x="465.83" y="830.3" font-family="'Liberation Sans', Arial, sans-serif" font-size="11.5" font-weight="bold" fill="#000" text-anchor="middle">Dec</text>
<text x="481.31" y="830.3" font-family="'Liberation Sans', Arial, sans-serif" font-size="10.3" fill="#000" textLength="5.6" lengthAdjust="spacingAndGlyphs" text-anchor="middle">7</text>
<text x="500.65" y="830.3" font-family="'Liberation Sans', Arial, sans-serif" font-size="10.3" fill="#000" textLength="11.2" lengthAdjust="spacingAndGlyphs" text-anchor="middle">14</text>
<text x="518.8" y="830.3" font-family="'Liberation Sans', Arial, sans-serif" font-size="10.3" fill="#000" textLength="11.2" lengthAdjust="spacingAndGlyphs" text-anchor="middle">21</text>
<text x="550.93" y="830.3" font-family="'Liberation Sans', Arial, sans-serif" font-size="11.5" font-weight="bold" fill="#000" text-anchor="middle">2016</text>
<text x="570.27" y="830.3" font-family="'Liberation Sans', Arial, sans-serif" font-size="10.3" fill="#000" textLength="11.2" lengthAdjust="spacingAndGlyphs" text-anchor="middle">11</text>
<text x="23.2" y="74.2" font-family="'Liberation Sans', Arial, sans-serif" font-size="14.4" font-weight="bold" textLength="42.6" lengthAdjust="spacingAndGlyphs" fill="#000" stroke="#000" stroke-width="0.45">$GOLD</text>
<text x="69.7" y="73" font-family="'Liberation Sans', Arial, sans-serif" font-size="11.3" fill="#000" textLength="114.3" lengthAdjust="spacingAndGlyphs">Gold - Spot Price (EOD)</text>
<text x="188.6" y="73" font-family="'Liberation Sans', Arial, sans-serif" font-size="8.6" fill="#000" textLength="22" lengthAdjust="spacingAndGlyphs">CME</text>
<text x="22.8" y="85.8" font-family="'Liberation Sans', Arial, sans-serif" font-size="10.3" fill="#000" textLength="60.4" lengthAdjust="spacingAndGlyphs">18-Dec-2015</text>
<text x="160.6" y="85.7" font-family="'Liberation Sans', Arial, sans-serif" font-size="11" font-weight="bold" fill="#000" textLength="14.9" lengthAdjust="spacingAndGlyphs">Op</text>
<text x="180.2" y="85.7" font-family="'Liberation Sans', Arial, sans-serif" font-size="10.3" fill="#000" textLength="37.2" lengthAdjust="spacingAndGlyphs">1051.50</text>
<text x="223.8" y="85.7" font-family="'Liberation Sans', Arial, sans-serif" font-size="11" font-weight="bold" fill="#000" textLength="10.3" lengthAdjust="spacingAndGlyphs">Hi</text>
<text x="238.7" y="85.7" font-family="'Liberation Sans', Arial, sans-serif" font-size="10.3" fill="#000" textLength="37.3" lengthAdjust="spacingAndGlyphs">1071.00</text>
<text x="283.1" y="85.7" font-family="'Liberation Sans', Arial, sans-serif" font-size="11" font-weight="bold" fill="#000" textLength="13.1" lengthAdjust="spacingAndGlyphs">Lo</text>
<text x="300.8" y="85.7" font-family="'Liberation Sans', Arial, sans-serif" font-size="10.3" fill="#000" textLength="37.3" lengthAdjust="spacingAndGlyphs">1050.00</text>
<text x="345.1" y="85.7" font-family="'Liberation Sans', Arial, sans-serif" font-size="11" font-weight="bold" fill="#000" textLength="9.8" lengthAdjust="spacingAndGlyphs">Cl</text>
<text x="359.6" y="85.7" font-family="'Liberation Sans', Arial, sans-serif" font-size="10.3" fill="#000" textLength="38.2" lengthAdjust="spacingAndGlyphs">1065.60</text>
<text x="405.8" y="85.7" font-family="'Liberation Sans', Arial, sans-serif" font-size="11" font-weight="bold" fill="#000" textLength="16.8" lengthAdjust="spacingAndGlyphs">Vol</text>
<text x="427.2" y="85.7" font-family="'Liberation Sans', Arial, sans-serif" font-size="10.3" fill="#000" textLength="33.6" lengthAdjust="spacingAndGlyphs">115.8K</text>
<text x="466.6" y="85.7" font-family="'Liberation Sans', Arial, sans-serif" font-size="11" font-weight="bold" fill="#000" textLength="21" lengthAdjust="spacingAndGlyphs">Chg</text>
<text x="491" y="85.7" font-family="'Liberation Sans', Arial, sans-serif" font-size="10.3" fill="#000" textLength="79.6" lengthAdjust="spacingAndGlyphs">+15.50 (+1.48%)</text>
<path d="M573.4 85.2L576.9 80.2 580.4 85.2z" fill="#333"/>
<text x="489.7" y="72.6" font-family="'DejaVu Sans', Verdana, sans-serif" font-size="10.6" fill="#4a4a4a" textLength="90.6" lengthAdjust="spacingAndGlyphs">©StockCharts.com</text>
</svg>
<div class="cap" id="c1">The 6-month chart shows recent action in more detail. We are starting</div>
<div class="cap" id="c2">to see some large white candles appear, which is positive.</div>
</body></html>
